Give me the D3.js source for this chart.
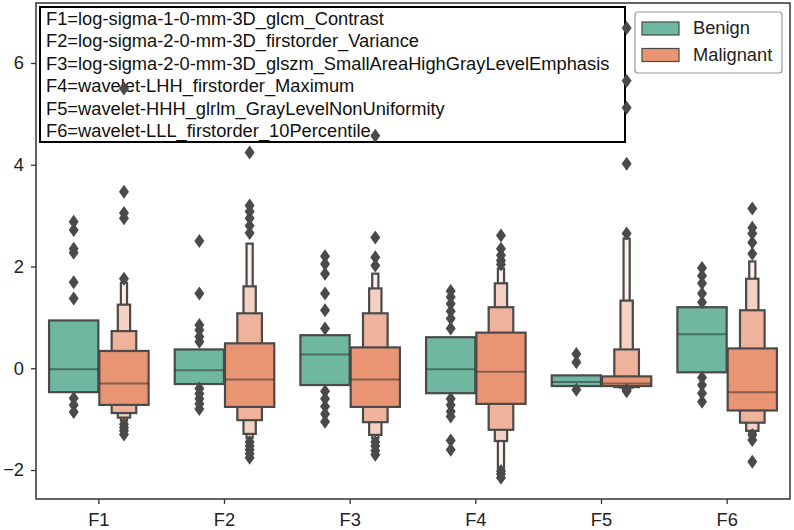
<!DOCTYPE html>
<html>
<head>
<meta charset="utf-8">
<script src="https://cdn.jsdelivr.net/npm/d3@7"></script>
<style>
  body { margin: 0; background: #fff; }
  svg text { font-family: "Liberation Sans", Arial, sans-serif; }
</style>
</head>
<body>
<svg id="chart" width="794" height="530"></svg>
<script>
const features = ["F1", "F2", "F3", "F4", "F5", "F6"];
const featureNames = [
  "F1=log-sigma-1-0-mm-3D_glcm_Contrast",
  "F2=log-sigma-2-0-mm-3D_firstorder_Variance",
  "F3=log-sigma-2-0-mm-3D_glszm_SmallAreaHighGrayLevelEmphasis",
  "F4=wavelet-LHH_firstorder_Maximum",
  "F5=wavelet-HHH_glrlm_GrayLevelNonUniformity",
  "F6=wavelet-LLL_firstorder_10Percentile"
];
const groups = ["Benign", "Malignant"];
const groupColors = ["#6fb7a0", "#e99574"];
const yTicks = [-2, 0, 2, 4, 6];

// letter-value boxes, innermost (quartiles) first: [low, high]
const benignLevels = [
  [[-0.47, 0.94]],
  [[-0.31, 0.37]],
  [[-0.33, 0.65]],
  [[-0.49, 0.61]],
  [[-0.35, -0.14]],
  [[-0.08, 1.2]]
];
const benignMedian = [-0.02, -0.04, 0.27, -0.02, -0.27, 0.67];
const benignOutliers = [
  [2.88, 2.72, 2.35, 2.27, 1.69, 1.37, -0.59, -0.72, -0.86],
  [2.5, 1.47, 0.85, 0.75, 0.62, 0.52, -0.4, -0.5, -0.6, -0.7, -0.8],
  [2.2, 2.05, 1.86, 1.47, 1.14, 0.78, -0.45, -0.6, -0.75, -0.9, -1.05],
  [1.52, 1.4, 1.27, 1.12, 0.98, 0.78, -0.6, -0.72, -0.85, -0.95, -1.42, -1.6],
  [0.28, 0.12, -0.42],
  [1.97, 1.82, 1.67, 1.47, 1.3, -0.18, -0.33, -0.49, -0.66]
];

const malignantLevels = [
  [[-0.72, 0.34], [-0.88, 0.73], [-0.97, 1.25], [-1.03, 1.68]],
  [[-0.76, 0.49], [-1.02, 1.08], [-1.29, 1.61], [-1.37, 2.45]],
  [[-0.76, 0.41], [-1.06, 1.08], [-1.31, 1.57], [-1.38, 1.86]],
  [[-0.7, 0.7], [-1.21, 1.2], [-1.43, 1.67], [-1.96, 1.96]],
  [[-0.35, -0.16], [-0.37, 0.37], [-0.38, 1.33], [-0.39, 2.55]],
  [[-0.83, 0.39], [-1.07, 1.14], [-1.23, 1.76], [-1.27, 2.1]]
];
const malignantMedian = [-0.3, -0.22, -0.22, -0.07, -0.3, -0.47];
const malignantOutliers = [
  [5.5, 3.47, 3.05, 2.95, 1.76, -1.1, -1.17, -1.23, -1.3],
  [4.24, 3.2, 3.08, 2.95, 2.8, 2.66, -1.45, -1.53, -1.6, -1.68, -1.76],
  [4.57, 2.57, 2.18, 2.02, -1.45, -1.53, -1.62, -1.7],
  [2.61, 2.35, 2.22, 2.12, 2.04, -2.02, -2.08, -2.15],
  [6.69, 5.65, 5.12, 4.02, 2.65, -0.42, -0.45],
  [3.14, 2.76, 2.65, 2.47, 2.25, -1.31, -1.41, -1.84]
];

const levelsByGroup = [benignLevels, malignantLevels];
const mediansByGroup = [benignMedian, malignantMedian];
const outliersByGroup = [benignOutliers, malignantOutliers];

const margin = {top: 3, right: 4, bottom: 31, left: 36};
const width = 794, height = 530;
const fontSize = 18.3;
const svg = d3.select("#chart");

const x = d3.scaleBand().domain(features)
  .range([margin.left, width - margin.right]).padding(0);
const y = d3.scaleLinear().domain([-2.57, 7.18])
  .range([height - margin.bottom, margin.top]);
const hueOffset = d3.scaleBand().domain(groups).range([-0.4, 0.4]);

const grey = "#4a4a4a";

// description box (drawn under the marks)
const descr = svg.append("g");
descr.append("rect")
  .attr("x", 40).attr("y", 7).attr("width", 585).attr("height", 135)
  .attr("fill", "#fff").attr("stroke", "#000").attr("stroke-width", 2);
descr.selectAll("text")
  .data(featureNames)
  .enter().append("text")
  .attr("x", 46)
  .attr("y", (d, i) => 25 + i * 22.4)
  .attr("font-size", fontSize)
  .attr("fill", "#111")
  .text(d => d);

// boxen
groups.forEach((g, gi) => {
  const base = d3.color(groupColors[gi]);
  const gg = svg.append("g");
  features.forEach((f, fi) => {
    const levels = levelsByGroup[gi][fi];
    const k = levels.length;
    const cx = x(f) + x.bandwidth() / 2 + (hueOffset(g) + hueOffset.bandwidth() / 2) * x.bandwidth();
    const full = hueOffset.bandwidth() * x.bandwidth() * 0.98;
    const blend = d3.interpolateRgb(base, "#fff");
    // outermost first so the quartile box ends up on top
    for (let i = k - 1; i >= 0; i--) {
      const w = full * Math.pow(2, -i);
      const t = k > 1 ? 0.85 * i / (k - 1) : 0;
      gg.append("rect")
        .attr("x", cx - w / 2)
        .attr("y", y(levels[i][1]))
        .attr("width", w)
        .attr("height", y(levels[i][0]) - y(levels[i][1]))
        .attr("fill", blend(t))
        .attr("stroke", grey)
        .attr("stroke-width", 2.2);
    }
    gg.append("line")
      .attr("x1", cx - full / 2).attr("x2", cx + full / 2)
      .attr("y1", y(mediansByGroup[gi][fi])).attr("y2", y(mediansByGroup[gi][fi]))
      .attr("stroke", "#262626").attr("stroke-opacity", 0.5).attr("stroke-width", 2);
    gg.selectAll(null)
      .data(outliersByGroup[gi][fi])
      .enter().append("path")
      .attr("d", "M0,-7L5,0L0,7L-5,0Z")
      .attr("transform", d => `translate(${cx},${y(d)})`)
      .attr("fill", grey);
  });
});

// axes
const yAxis = svg.append("g")
  .attr("transform", `translate(${margin.left},0)`)
  .call(d3.axisLeft(y).tickValues(yTicks).tickSize(5).tickPadding(7).tickFormat(d => d < 0 ? "\u2212" + Math.abs(d) : d));
const xAxis = svg.append("g")
  .attr("transform", `translate(0,${height - margin.bottom})`)
  .call(d3.axisBottom(x).tickSize(5).tickPadding(9));
[yAxis, xAxis].forEach(a => {
  a.select(".domain").remove();
  a.selectAll(".tick line").attr("stroke", "#333").attr("stroke-width", 1.3);
  a.selectAll(".tick text").attr("font-size", fontSize).attr("fill", "#222")
    .style("font-family", "'Liberation Sans', Arial, sans-serif");
});

// frame
svg.append("rect")
  .attr("x", margin.left).attr("y", margin.top)
  .attr("width", width - margin.left - margin.right)
  .attr("height", height - margin.top - margin.bottom)
  .attr("fill", "none").attr("stroke", "#333").attr("stroke-width", 1.5);

// legend
const legend = svg.append("g");
legend.append("rect")
  .attr("x", 635).attr("y", 12).attr("width", 147).attr("height", 61)
  .attr("rx", 3).attr("fill", "#fff").attr("fill-opacity", 0.8)
  .attr("stroke", "#999").attr("stroke-width", 1.2);
const items = legend.selectAll("g.item")
  .data(groups)
  .enter().append("g")
  .attr("transform", (d, i) => `translate(642,${22 + i * 26.5})`);
items.append("rect")
  .attr("width", 37).attr("height", 13)
  .attr("fill", (d, i) => groupColors[i])
  .attr("stroke", grey).attr("stroke-width", 1.2);
items.append("text")
  .attr("x", 51).attr("y", 12)
  .attr("font-size", fontSize).attr("fill", "#222")
  .text(d => d);
</script>
</body>
</html>
